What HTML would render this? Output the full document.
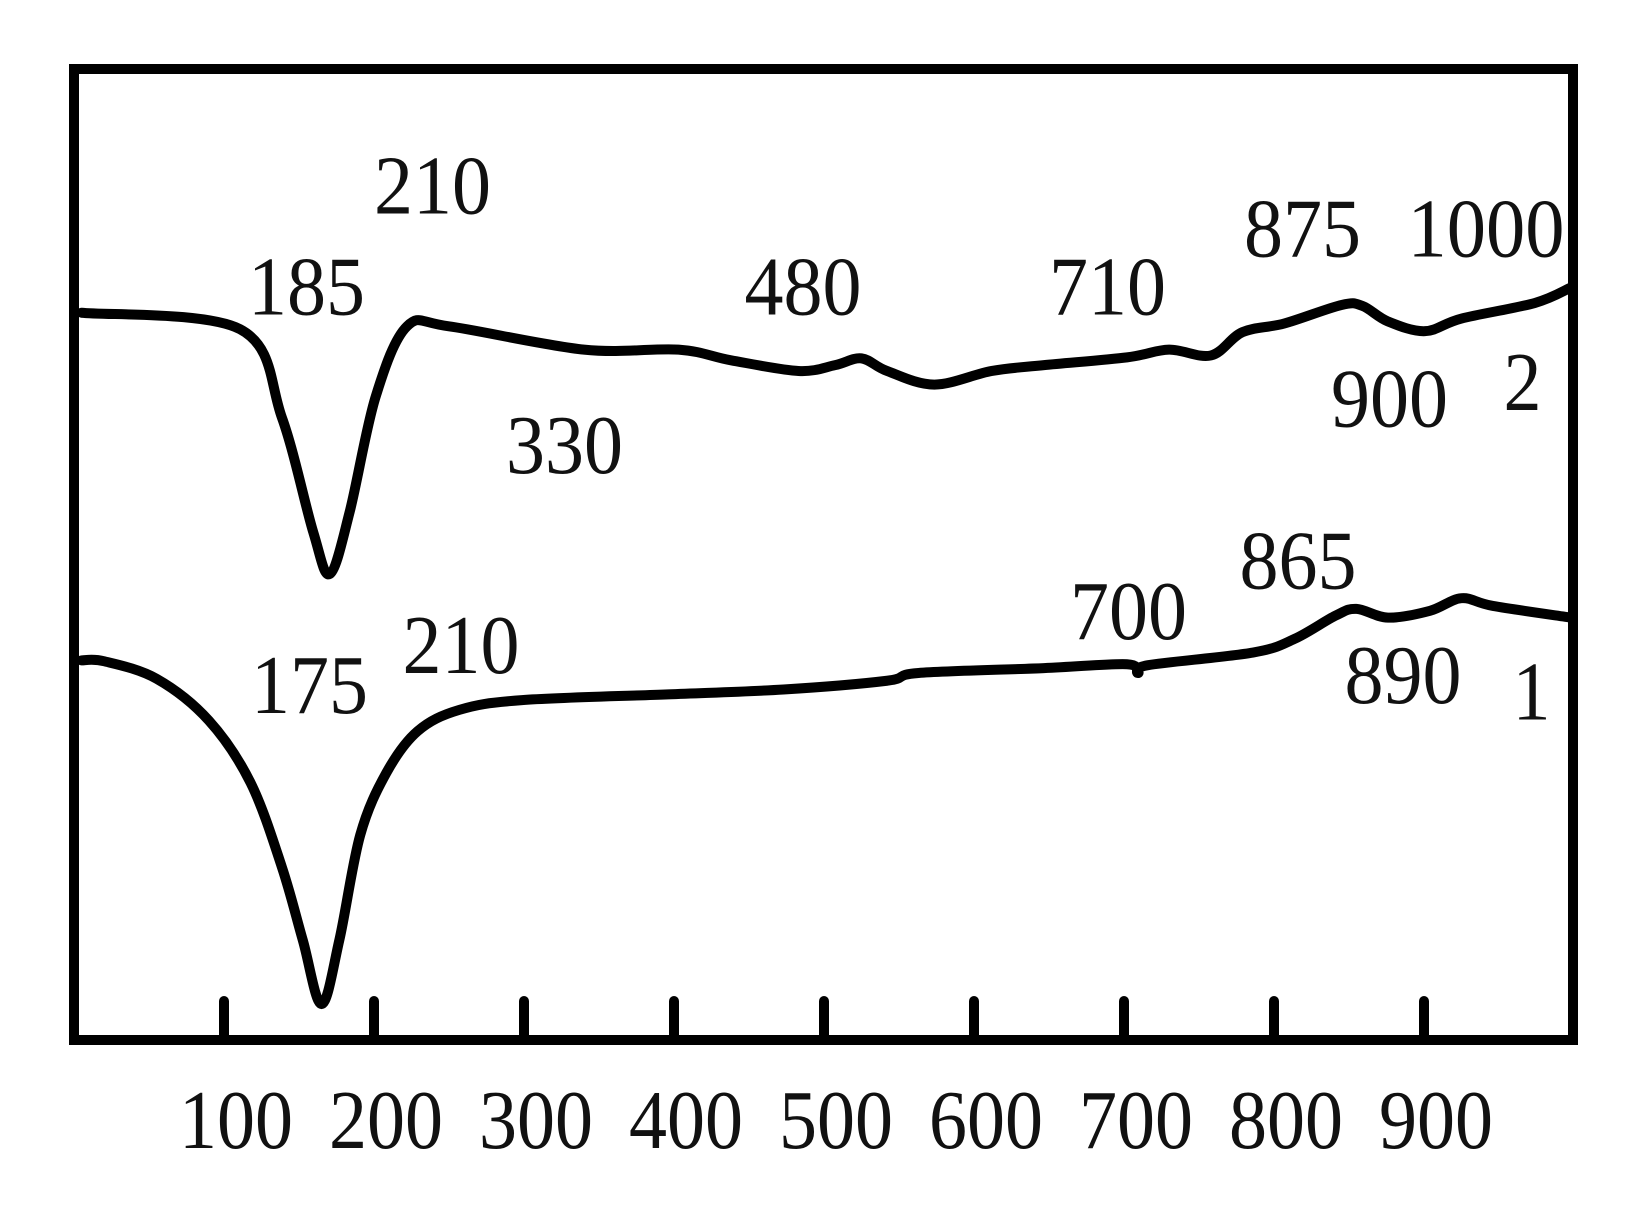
<!DOCTYPE html>
<html><head><meta charset="utf-8"><style>
html,body{margin:0;padding:0;background:#fff;}
svg{display:block;}
text{font-family:"Liberation Serif",serif;fill:#111;}
</style></head><body>
<svg id="chart" width="1629" height="1218" viewBox="0 0 1629 1218" xmlns="http://www.w3.org/2000/svg">
<rect x="74" y="69" width="1499" height="971" fill="none" stroke="#000" stroke-width="10"/>
<g id="ticks"></g>
<g id="ticklabels"></g>
<g id="curves"></g>
<g id="annots"></g>
</svg>
<script>
const tickValues = [100,200,300,400,500,600,700,800,900];
const tickLabels = ["100","200","300","400","500","600","700","800","900"];
const curve2X = [5,110.7,138.6,159.5,170.6,183.8,201,222,249.9,340,403,438,483,507.4,525,542,573.6,611.9,646.7,702,730,758,779,807,845,859,876,900.7,925,973.8,998];
const curve2Y = [74.9,73.2,64.1,52.3,48.0,54.4,66.2,73.5,73.5,71.1,71.1,70.0,68.9,69.5,70.2,68.9,67.5,68.9,69.5,70.3,71.1,70.5,72.9,73.8,75.7,75.6,74.0,73.0,74.3,75.9,77.5];
const curve1X = [5,20.3,55.1,89.9,117.7,138.6,152.5,165,176.9,190.8,208.2,229,256.9,298.7,396,473,542,563,646.7,702,709.3,716,786,813.6,841,855,876,904,925,946,998];
const curve1Y = [39.1,39.0,37.2,32.9,26.5,17.8,10.3,3.7,10.3,21.1,27.5,31.8,34.0,35.0,35.6,36.1,37.0,37.8,38.3,38.7,37.8,38.6,39.9,41.3,43.7,44.4,43.5,44.2,45.5,44.7,43.5];
const annotText = ["210","185","480","710","875","1000","330","900","2","865","700","210","175","890","1"];
const annotX = [200,116,447,650,780,889,288,838,953,777,664,219,118,847,959];
const annotY = [85.1,74.7,74.7,74.7,80.7,80.7,58.4,63.2,64.9,46.5,41.3,37.8,33.7,34.7,33.0];

const NS="http://www.w3.org/2000/svg";
const xS=v=>74+1.5*v;
const yS=v=>1040-9.71*v;
function mk(tag,attrs,parent){const e=document.createElementNS(NS,tag);for(const k in attrs)e.setAttribute(k,attrs[k]);parent.appendChild(e);return e;}
const gT=document.getElementById('ticks'),gL=document.getElementById('ticklabels'),gC=document.getElementById('curves'),gA=document.getElementById('annots');
tickValues.forEach((v,i)=>{
  const t=mk('line',{x1:xS(v),x2:xS(v),y1:1001,y2:1040,stroke:'#000','stroke-width':10,'stroke-linecap':'round'},gT);
  
  
  const l=mk('text',{x:xS(v)+12,y:1148,'text-anchor':'middle','font-size':84,textLength:114,lengthAdjust:'spacingAndGlyphs'},gL);
  l.textContent=tickLabels[i];
  
  
});
function drawCurve(xs,ys,name){
  const pts=xs.map((x,i)=>[xS(x),yS(ys[i])]);
  let d='M'+pts[0][0]+','+pts[0][1];
  for(let i=0;i<pts.length-1;i++){
    const p0=pts[Math.max(0,i-1)],p1=pts[i],p2=pts[i+1],p3=pts[Math.min(pts.length-1,i+2)];
    const c1x=p1[0]+(p2[0]-p0[0])/6,c1y=p1[1]+(p2[1]-p0[1])/6;
    const c2x=p2[0]-(p3[0]-p1[0])/6,c2y=p2[1]-(p3[1]-p1[1])/6;
    d+=' C'+c1x+','+c1y+' '+c2x+','+c2y+' '+p2[0]+','+p2[1];
  }
  const p=mk('path',{d:d,fill:'none',stroke:'#000','stroke-width':10,'stroke-linejoin':'round','stroke-linecap':'round'},gC);
  
  
}
drawCurve(curve2X,curve2Y,'curve-2');
drawCurve(curve1X,curve1Y,'curve-1');
annotText.forEach((s,i)=>{
  const len=s.length===4?157:(s.length===1?38:117);
  const t=mk('text',{x:xS(annotX[i]),y:yS(annotY[i]),'font-size':84,textLength:len,lengthAdjust:'spacingAndGlyphs'},gA);
  t.textContent=s;
  
  
});
</script>
</body></html>
